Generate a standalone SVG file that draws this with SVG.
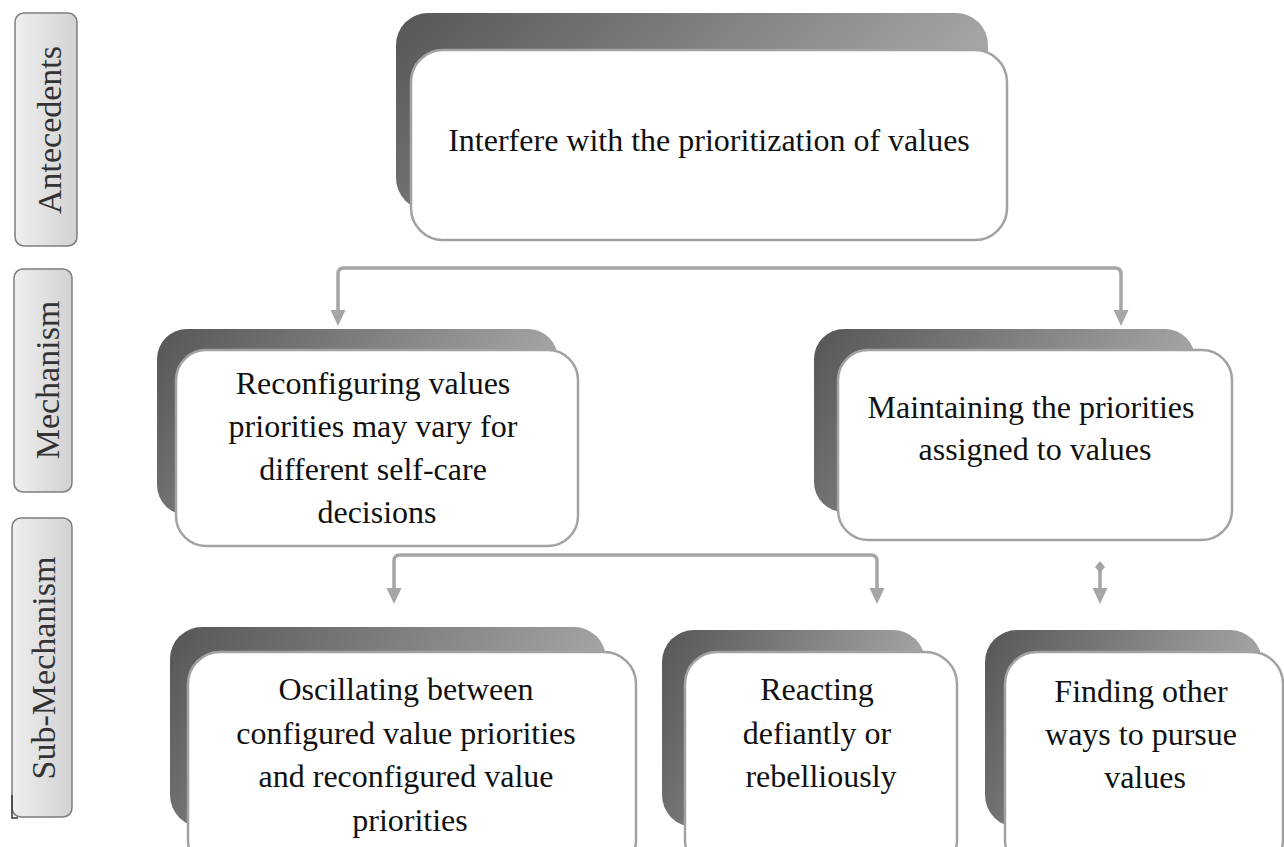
<svg xmlns="http://www.w3.org/2000/svg" width="1284" height="847" viewBox="0 0 1284 847">
  <defs>
    <linearGradient id="backShade" x1="0" y1="0" x2="1" y2="0.35">
      <stop offset="0" stop-color="#565656"/>
      <stop offset="1" stop-color="#ababab"/>
    </linearGradient>
    <linearGradient id="tabShade" x1="0" y1="0" x2="1" y2="0">
      <stop offset="0" stop-color="#efefef"/>
      <stop offset="1" stop-color="#d2d2d2"/>
    </linearGradient>
    <!-- downward arrowhead, tip at origin -->
    <path id="head" d="M-7.5,-16 L7.5,-16 L0,0 Z" fill="#a6a6a6"/>
    <!-- small diamond cap -->
    <path id="cap" d="M0,-6 L5,0 L0,6 L-5,0 Z" fill="#a6a6a6"/>
  </defs>
  <style>
    .tab { fill: url(#tabShade); stroke: #7d7d7d; stroke-width: 1.5; }
    .tabtxt { font-family: "Liberation Serif", "Times New Roman", serif; font-size: 34px; fill: #333; text-anchor: middle; }
    .back { fill: url(#backShade); }
    .front { fill: #ffffff; stroke: #a2a2a2; stroke-width: 2.5; }
    .txt { font-family: "Liberation Serif", "Times New Roman", serif; font-size: 32px; fill: #111; text-anchor: middle; }
    .link { fill: none; stroke: #a6a6a6; stroke-width: 3.5; stroke-linejoin: round; }
  </style>

  <rect width="1284" height="847" fill="#ffffff"/>

  <!-- level tabs -->
  <g id="tab-antecedents">
    <rect class="tab" x="15" y="13" width="62" height="233" rx="9"/>
    <text class="tabtxt" transform="translate(61,130) rotate(-90)">Antecedents</text>
  </g>
  <g id="tab-mechanism">
    <rect class="tab" x="14" y="269" width="58" height="223" rx="9"/>
    <text class="tabtxt" transform="translate(59,380) rotate(-90)">Mechanism</text>
  </g>
  <g id="tab-submechanism">
    <rect class="tab" x="12" y="518" width="60" height="299" rx="9"/>
    <text class="tabtxt" transform="translate(55,668) rotate(-90)">Sub-Mechanism</text>
    <path d="M12,795 V818 H18" fill="none" stroke="#333" stroke-width="1.5"/>
  </g>

  <!-- connectors -->
  <g id="connectors">
    <path class="link" d="M338,312 V274 Q338,268 344,268 H1115 Q1121,268 1121,274 V312"/>
    <use href="#head" x="338" y="326"/>
    <use href="#head" x="1121" y="326"/>
    <path class="link" d="M394,590 V561 Q394,555 400,555 H871 Q877,555 877,561 V590"/>
    <use href="#head" x="394" y="604"/>
    <use href="#head" x="877" y="604"/>
    <path class="link" d="M1100,568 V590"/>
    <use href="#cap" x="1100" y="567"/>
    <use href="#head" x="1100" y="604"/>
  </g>

  <!-- antecedent -->
  <g id="node-interfere">
    <rect class="back" x="396" y="13" width="592" height="197" rx="32"/>
    <rect class="front" x="411" y="50" width="596" height="190" rx="32"/>
    <text class="txt" x="709" y="151">Interfere with the prioritization of values</text>
  </g>

  <!-- mechanisms -->
  <g id="node-reconfiguring">
    <rect class="back" x="157" y="329" width="401" height="186" rx="30"/>
    <rect class="front" x="176" y="350" width="402" height="196" rx="30"/>
    <text class="txt">
      <tspan x="377" y="394">Reconfiguring values</tspan>
      <tspan x="377" y="437">priorities may vary for</tspan>
      <tspan x="377" y="480">different self-care</tspan>
      <tspan x="377" y="523">decisions</tspan>
    </text>
  </g>
  <g id="node-maintaining">
    <rect class="back" x="814" y="329" width="381" height="183" rx="30"/>
    <rect class="front" x="838" y="350" width="394" height="190" rx="30"/>
    <text class="txt">
      <tspan x="1035" y="418">Maintaining the priorities</tspan>
      <tspan x="1035" y="460">assigned to values</tspan>
    </text>
  </g>

  <!-- sub-mechanisms -->
  <g id="node-oscillating">
    <rect class="back" x="170" y="627" width="436" height="200" rx="32"/>
    <rect class="front" x="188" y="652" width="448" height="220" rx="32"/>
    <text class="txt">
      <tspan x="410" y="700">Oscillating between</tspan>
      <tspan x="410" y="744">configured value priorities</tspan>
      <tspan x="410" y="787">and reconfigured value</tspan>
      <tspan x="410" y="831">priorities</tspan>
    </text>
  </g>
  <g id="node-reacting">
    <rect class="back" x="662" y="630" width="263" height="197" rx="32"/>
    <rect class="front" x="685" y="652" width="272" height="220" rx="32"/>
    <text class="txt">
      <tspan x="821" y="700">Reacting</tspan>
      <tspan x="821" y="744">defiantly or</tspan>
      <tspan x="821" y="787">rebelliously</tspan>
    </text>
  </g>
  <g id="node-finding">
    <rect class="back" x="985" y="630" width="277" height="197" rx="32"/>
    <rect class="front" x="1005" y="652" width="278" height="220" rx="32"/>
    <text class="txt">
      <tspan x="1145" y="702">Finding other</tspan>
      <tspan x="1145" y="745">ways to pursue</tspan>
      <tspan x="1145" y="788">values</tspan>
    </text>
  </g>
</svg>
